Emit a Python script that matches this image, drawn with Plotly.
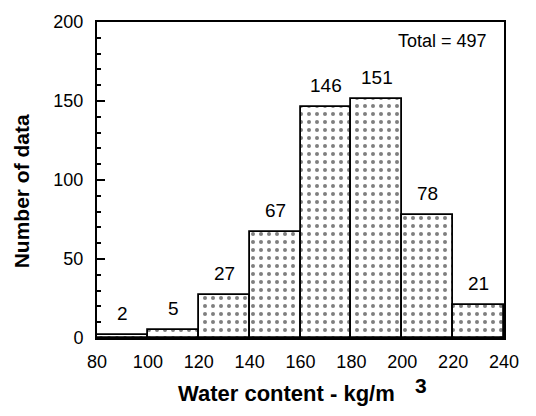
import plotly.graph_objects as go

# Histogram of water content (bin edges every 20 kg/m3)
bin_centers = [90, 110, 130, 150, 170, 190, 210, 230]
counts = [2, 5, 27, 67, 146, 151, 78, 21]
bin_width = 20
total = sum(counts)

FONT = "Liberation Sans, Arial, Helvetica, sans-serif"

fig = go.Figure(
    go.Bar(
        x=bin_centers,
        y=counts,
        width=bin_width,
        marker=dict(
            color="white",
            line=dict(color="black", width=1.8),
            pattern=dict(shape=".", fgcolor="black", bgcolor="white",
                         size=8, solidity=0.2),
        ),
    )
)

# Count labels above each bar
for xc, c in zip(bin_centers, counts):
    fig.add_annotation(
        x=xc, y=c, text=str(c), showarrow=False,
        xanchor="center", yanchor="bottom", yshift=9,
        font=dict(family=FONT, size=19, color="black"),
    )

fig.update_layout(
    width=536,
    height=416,
    margin=dict(l=97, r=32, t=16, b=78),
    plot_bgcolor="white",
    paper_bgcolor="white",
    showlegend=False,
    bargap=0,
    font=dict(family=FONT, size=18, color="black"),
)

fig.update_xaxes(
    range=[80, 240],
    tickmode="array",
    tickvals=list(range(80, 241, 20)),
    ticks="",
    ticklabelstandoff=6,
    showgrid=False,
    zeroline=False,
    showline=True,
    linecolor="black",
    linewidth=2,
    mirror=True,
    tickfont=dict(size=18),
)

fig.update_yaxes(
    range=[0, 200],
    dtick=50,
    ticks="inside",
    ticklen=8,
    tickwidth=1.5,
    tickcolor="black",
    ticklabelstandoff=8,
    minor=dict(ticks="inside", dtick=10, ticklen=4, tickwidth=1.5, tickcolor="black"),
    showgrid=False,
    zeroline=False,
    showline=True,
    linecolor="black",
    linewidth=2,
    mirror=True,
    tickfont=dict(size=18),
)

# Axis titles
fig.add_annotation(
    xref="paper", yref="paper", x=0.465, y=-0.175,
    text="<b>Water content - kg/m</b>", showarrow=False,
    font=dict(family=FONT, size=22, color="black"),
    xanchor="center", yanchor="middle",
)
fig.add_annotation(
    xref="paper", yref="paper", x=0.796, y=-0.149,
    text="<b>3</b>", showarrow=False,
    font=dict(family=FONT, size=21, color="black"),
    xanchor="center", yanchor="middle",
)
fig.add_annotation(
    xref="paper", yref="paper", x=-0.186, y=0.465,
    text="<b>Number of data</b>", showarrow=False, textangle=-90,
    font=dict(family=FONT, size=21, color="black"),
    xanchor="center", yanchor="middle",
)

fig.add_annotation(
    xref="paper", yref="paper", x=0.962, y=0.94,
    text=f"Total = {total}", showarrow=False,
    font=dict(family=FONT, size=18, color="black"),
    xanchor="right", yanchor="middle",
)

fig.write_html("out.html")
